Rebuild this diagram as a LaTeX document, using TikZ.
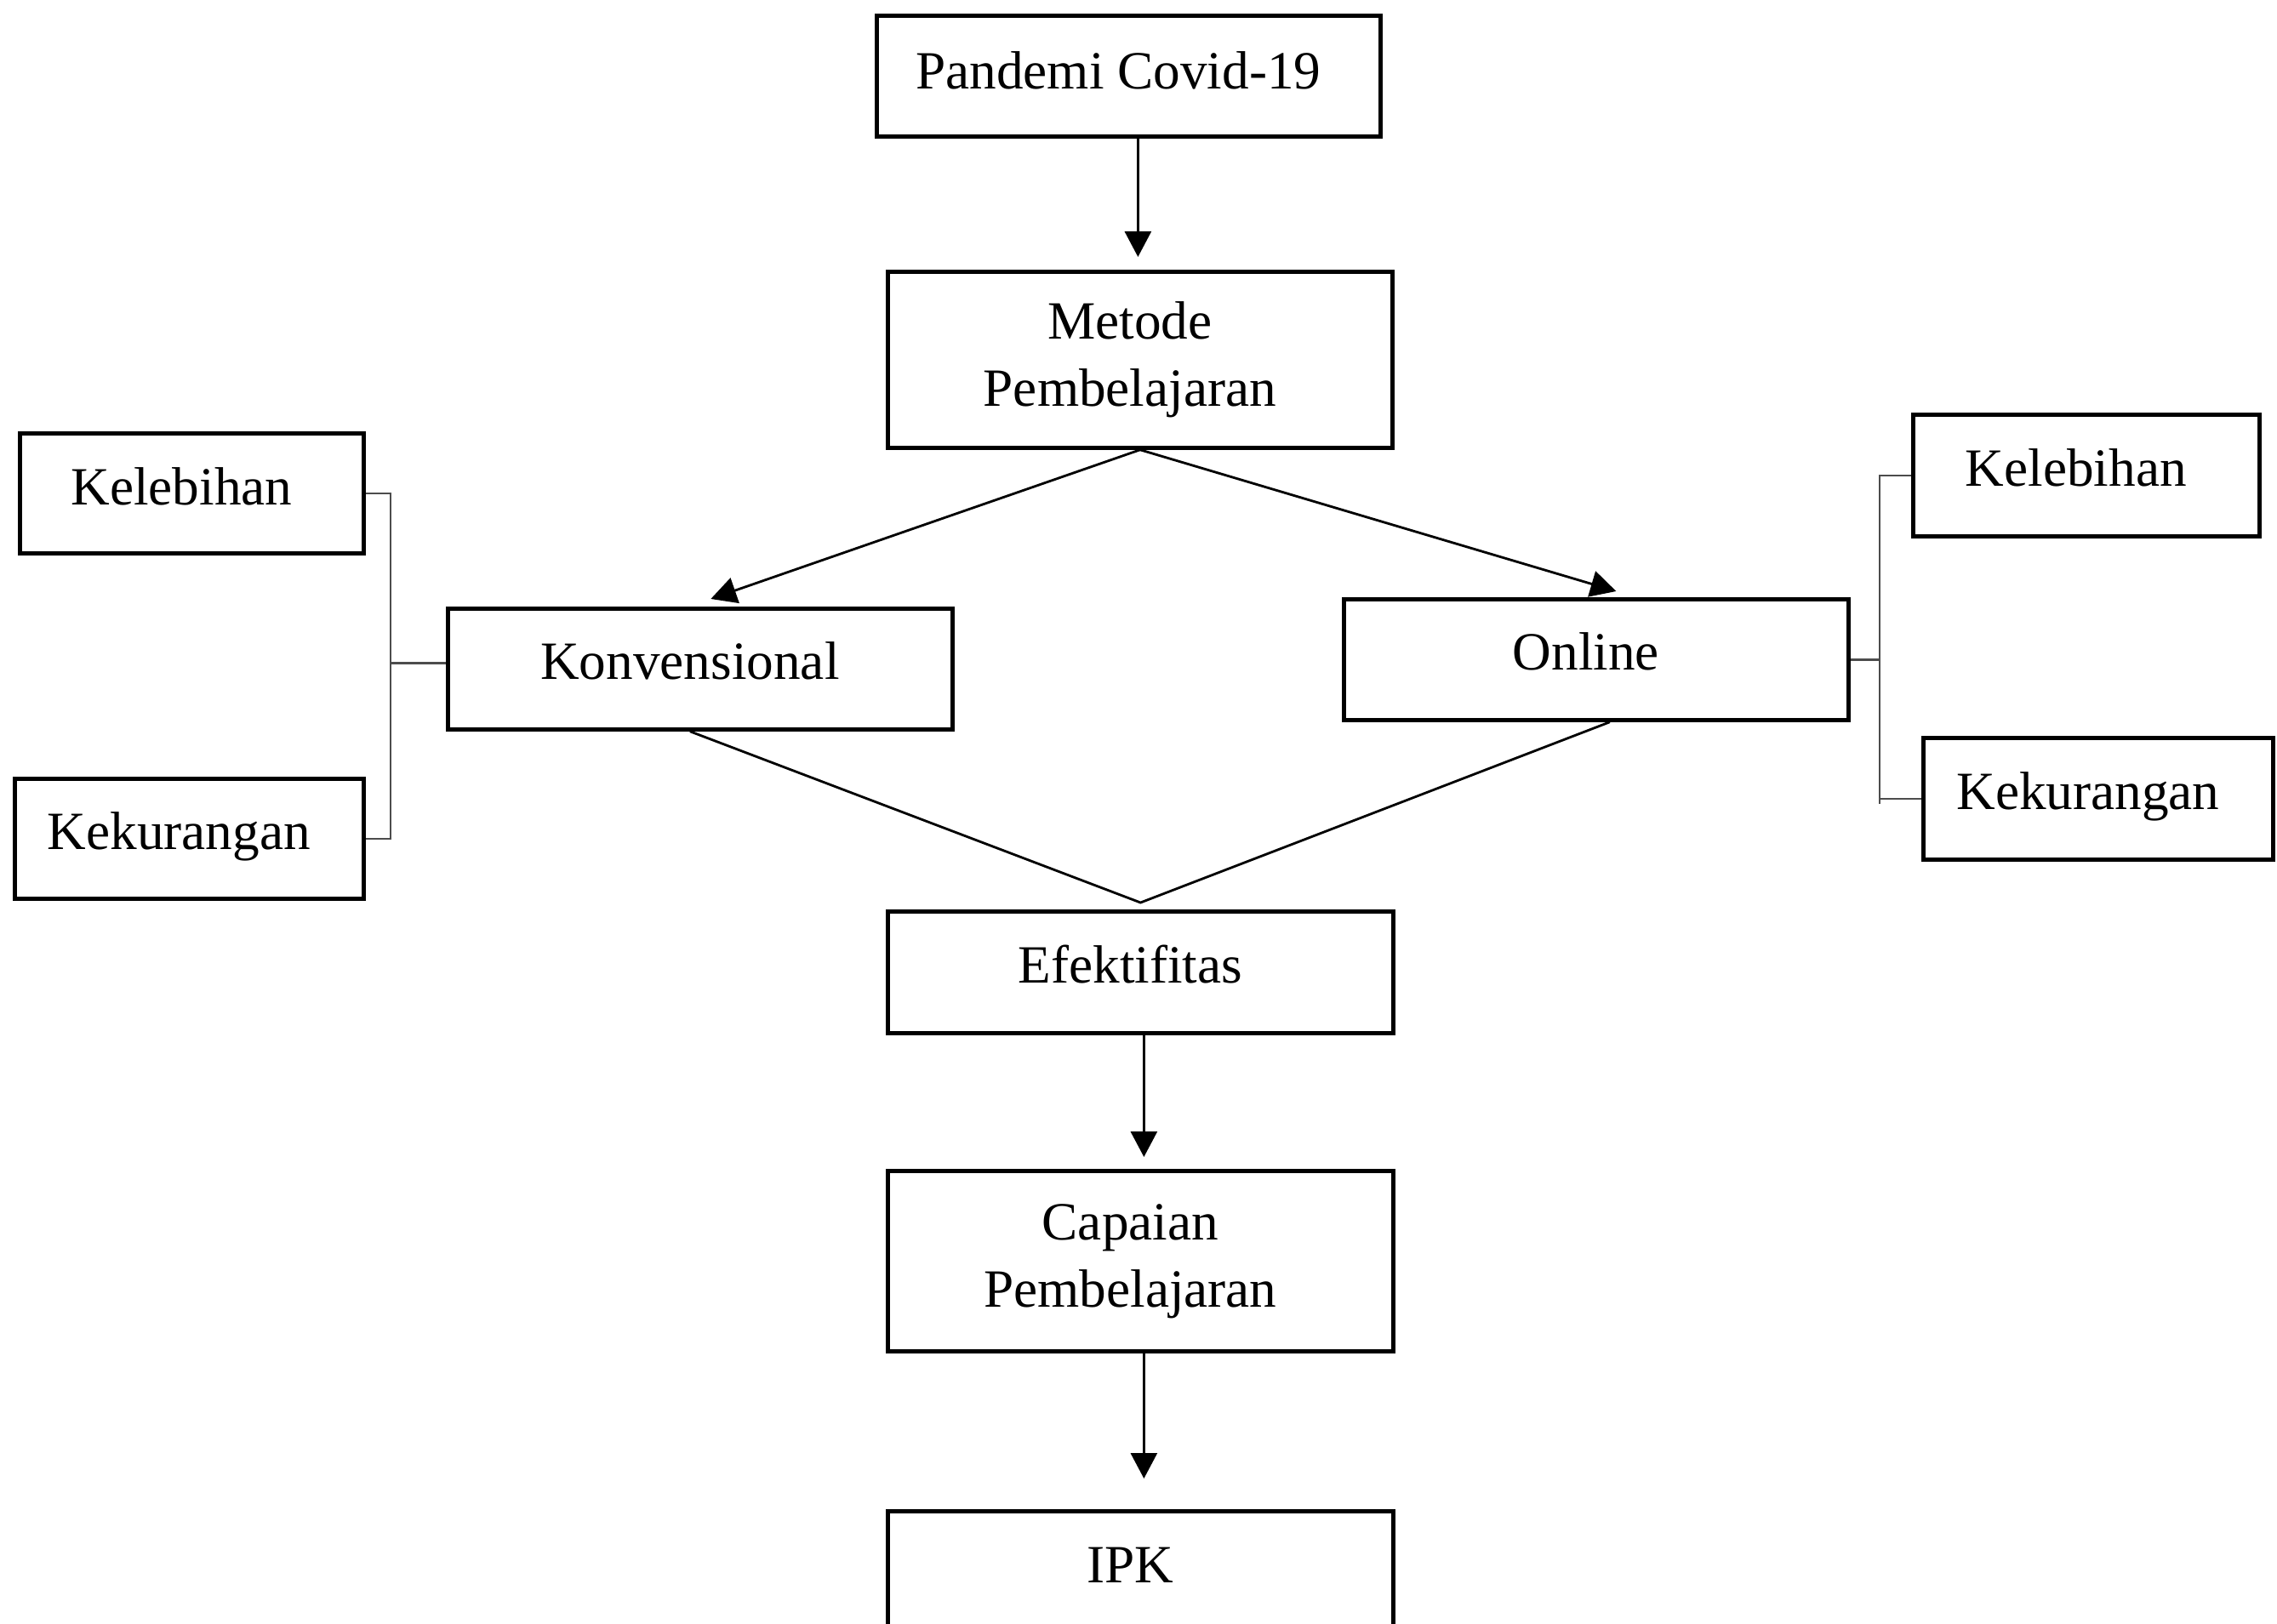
\documentclass[tikz,border=0pt]{standalone}
\usepackage{fontspec}
\setmainfont{Liberation Serif}
\usetikzlibrary{arrows.meta}
\newcommand{\lsh}{\hspace*{0.24cm}}
\begin{document}
\begin{tikzpicture}[
  box/.style={draw, line width=1.35pt, inner sep=0pt, anchor=north west,
    font=\fontsize{18}{22.5}\selectfont, align=center},
  arr/.style={-{Triangle[length=0.30cm,width=0.31cm]}, line width=0.8pt},
  diag/.style={line width=0.8pt},
  brk/.style={line width=0.7pt, draw=black!70}
]
\useasboundingbox[fill=white] (0,0) rectangle (26.76,-19.09);

% boxes
\node[box, minimum width=5.92cm, text height=0.86cm, text depth=0.56cm] (pandemi) at (10.28,-0.16) {Pandemi Covid-19\lsh};
\node[box, minimum width=5.93cm, minimum height=2.07cm] (metode) at (10.41,-3.17) {Metode\lsh\\Pembelajaran\lsh};
\node[box, minimum width=4.04cm, text height=0.84cm, text depth=0.57cm] (kl) at (0.21,-5.07) {Kelebihan\lsh};
\node[box, minimum width=4.10cm, text height=0.83cm, text depth=0.58cm] (kk) at (0.15,-9.13) {Kekurangan\lsh};
\node[box, minimum width=5.93cm, text height=0.83cm, text depth=0.59cm] (konv) at (5.24,-7.13) {Konvensional\lsh};
\node[box, minimum width=5.93cm, text height=0.83cm, text depth=0.59cm] (online) at (15.77,-7.02) {Online\lsh};
\node[box, minimum width=4.07cm, text height=0.84cm, text depth=0.59cm] (kr) at (22.46,-4.85) {Kelebihan\lsh};
\node[box, minimum width=4.11cm, text height=0.84cm, text depth=0.59cm] (kur) at (22.58,-8.65) {Kekurangan\lsh};
\node[box, minimum width=5.94cm, text height=0.84cm, text depth=0.59cm] (efek) at (10.41,-10.69) {Efektifitas\lsh};
\node[box, minimum width=5.94cm, minimum height=2.12cm] (capaian) at (10.41,-13.74) {Capaian\lsh\\Pembelajaran\lsh};
\node[box, minimum width=5.94cm, text height=0.84cm, text depth=0.59cm] (ipk) at (10.41,-17.74) {IPK\lsh};

% vertical arrows
\draw[arr, shorten >=0.15cm] ([xshift=0.11cm]pandemi.south) -- ([xshift=0.11cm]pandemi.south |- metode.north);
\draw[arr, shorten >=0.14cm] ([xshift=0.04cm]efek.south) -- ([xshift=0.04cm]efek.south |- capaian.north);
\draw[arr, shorten >=0.36cm] ([xshift=0.04cm]capaian.south) -- ([xshift=0.04cm]capaian.south |- ipk.north);

% diagonal arrows
\draw[arr] (metode.south) -- ([xshift=0.125cm,yshift=0.09cm]konv.north);
\draw[arr] (metode.south) -- ([xshift=0.235cm,yshift=0.07cm]online.north);

% lines to Efektifitas
\coordinate (meet) at ([yshift=0.08cm]efek.north);
\draw[diag] ([xshift=-0.12cm]konv.south) -- (meet) -- ([xshift=0.16cm]online.south);

% left bracket
\coordinate (lb) at (4.59,-5.75);
\draw[brk] (kl.east) -- (kl.east -| lb) -- (kk.east -| lb) -- (kk.east);
\draw[brk] ([yshift=0.07cm]konv.west) -- ([yshift=0.07cm]konv.west -| lb);

% right bracket
\coordinate (rb) at (22.09,-5.56);
\draw[brk] (kr.west) -- (kr.west -| rb) -- ([yshift=-0.06cm]kur.west -| rb);
\draw[brk] (kur.west) -- (kur.west -| rb);
\draw[brk] (online.east) -- (online.east -| rb);
\end{tikzpicture}
\end{document}
